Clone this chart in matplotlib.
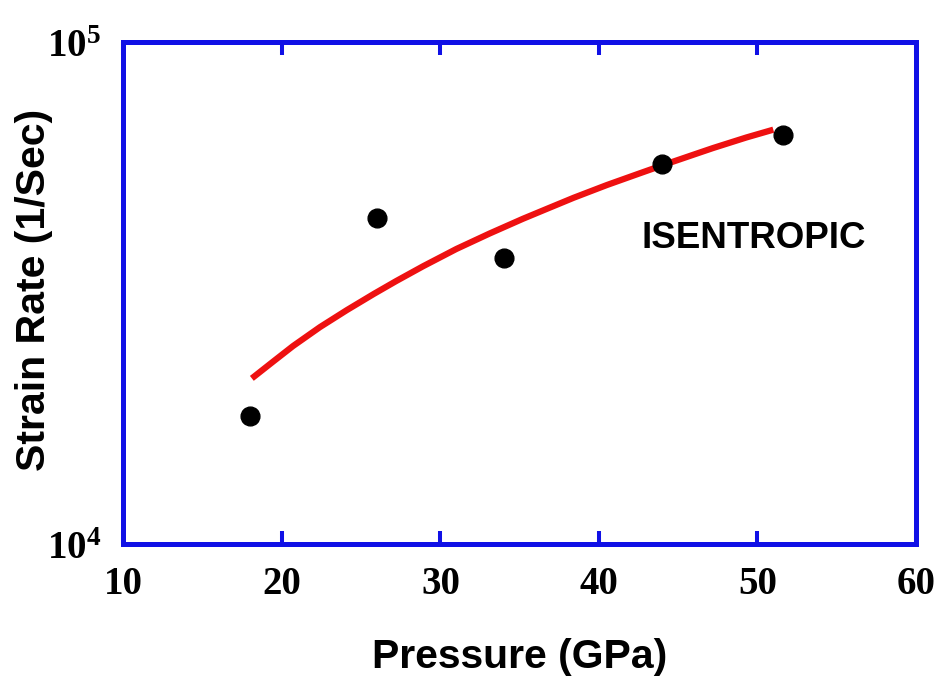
import numpy as np
import matplotlib
matplotlib.use("Agg")
import matplotlib.pyplot as plt

# measured points
pressure = [18.0, 26.0, 34.0, 44.0, 51.6]
strain_rate = [1.80e4, 4.46e4, 3.71e4, 5.72e4, 6.53e4]

# red fit curve
fit_p = [18.1, 19.45, 20.7, 22.4, 24.1, 25.8, 27.2, 28.9, 31.0, 33.1, 35.2,
         36.8, 38.4, 40.5, 42.6, 44.1, 46.2, 47.2, 49.3, 51.0]
fit_r = [2.138e4, 2.31e4, 2.48e4, 2.705e4, 2.925e4, 3.15e4, 3.34e4, 3.575e4,
         3.87e4, 4.155e4, 4.445e4, 4.665e4, 4.895e4, 5.19e4, 5.48e4, 5.695e4,
         6.0e4, 6.15e4, 6.455e4, 6.69e4]

xticks = [10, 20, 30, 40, 50, 60]
yticks = [1e4, 1e5]
ylabels = [r"$10^{4}$", r"$10^{5}$"]

plt.rcParams['mathtext.fontset'] = 'custom'
plt.rcParams['mathtext.rm'] = 'Liberation Serif:bold'
plt.rcParams['mathtext.it'] = 'Liberation Serif:bold'
plt.rcParams['mathtext.bf'] = 'Liberation Serif:bold'

blue = '#1010e6'
fig = plt.figure(figsize=(9.41, 6.78), dpi=100)
ax = fig.add_axes([0.1312, 0.1976, 0.9734 - 0.1312, 0.938 - 0.1976])

ax.plot(fit_p, fit_r, color='#ee1111', lw=4.5, solid_capstyle='butt',
        solid_joinstyle='round', zorder=2)
ax.plot(pressure, strain_rate, 'o', color='black', ms=13.5, zorder=3)

ax.set_yscale('log')
ax.set_xlim(10, 60)
ax.set_ylim(1e4, 1e5)

ax.set_xticks(xticks)
ax.set_xticklabels([str(t) for t in xticks], fontfamily='Liberation Serif',
                   fontweight='bold', fontsize=28)
ax.set_yticks(yticks)
ax.set_yticklabels(ylabels, fontsize=28)
ax.yaxis.set_minor_locator(matplotlib.ticker.NullLocator())

ax.tick_params(axis='x', which='major', direction='in', length=9.5, width=2.9,
               color=blue, top=True, pad=16)
ax.tick_params(axis='y', which='both', length=0, pad=16)

for s in ax.spines.values():
    s.set_color(blue)
    s.set_linewidth(3.6)

ax.set_xlabel('Pressure (GPa)', fontfamily='Liberation Sans', fontweight='bold',
              fontsize=29.5)
ax.xaxis.label.set_va('center')
ax.xaxis.set_label_coords(0.5, -0.225)
ax.set_ylabel('Strain Rate (1/Sec)', fontfamily='Liberation Sans', fontweight='bold',
              fontsize=29.5)
ax.yaxis.label.set_va('center')
ax.yaxis.set_label_coords(-0.113, 0.506)

ax.text(49.75, 4.07e4, 'ISENTROPIC', fontfamily='Liberation Sans', fontweight='bold',
        fontsize=26.5, ha='center', va='center')

fig.savefig('out.png', dpi=100)
